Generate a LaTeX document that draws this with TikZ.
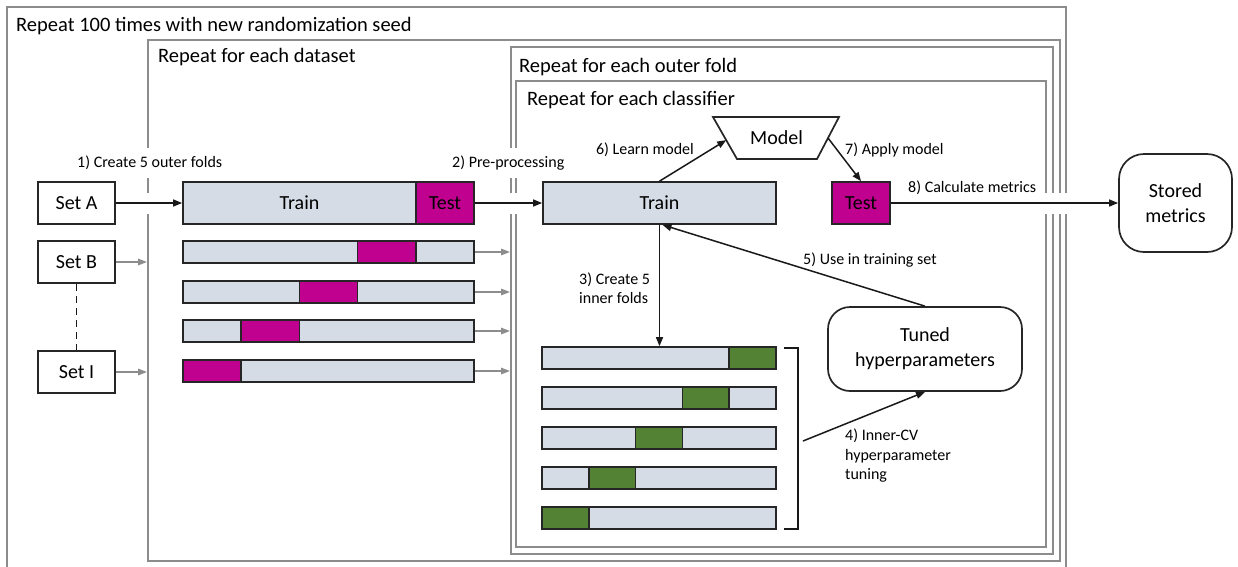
\documentclass[tikz,border=0pt]{standalone}
\usepackage{fontspec}
\setmainfont{Carlito}
\usetikzlibrary{arrows.meta,calc}
\definecolor{barfill}{HTML}{D6DCE5}
\definecolor{testmag}{HTML}{C0008F}
\definecolor{foldgreen}{HTML}{548235}
\definecolor{framegray}{HTML}{8C8C8C}
\begin{document}
\begin{tikzpicture}[x=1pt,y=-1pt,
  frame/.style={draw=framegray,line width=1.6pt},
  ftitle/.style={anchor=base west,font=\fontsize{20.5}{24}\selectfont,inner sep=0pt},
  bigtext/.style={font=\fontsize{20}{25}\selectfont},
  box/.style={draw=black!85,line width=1.7pt,bigtext,inner sep=0pt,align=center},
  bar/.style={box,fill=barfill},
  lbl/.style={font=\fontsize{16}{19.5}\selectfont,inner sep=0pt,align=left},
  gaplbl/.style={lbl,fill=white,inner ysep=8pt},
  arr/.style={-{Triangle[length=9pt,width=7pt]},line width=1.5pt,black!90},
  garr/.style={-{Triangle[length=9pt,width=6.5pt]},line width=1.5pt,framegray},
  halo/.style={preaction={draw=white,line width=21pt,arrows=-,shorten <=3pt,shorten >=3pt}},
]
\useasboundingbox (0,0) rectangle (1238,566);

% frames
\draw[frame] (7,567) -- (7,7) -- (1066,7) -- (1066,567);
\draw[frame] (148,40) rectangle (1060,561);
\draw[frame] (511,47) rectangle (1053,554);
\draw[frame] (516,81) rectangle (1046,547);
\node[ftitle] (t1) at (16,31) {Repeat 100 times with new randomization seed};
\node[ftitle] (t2) at (158,62) {Repeat for each dataset};
\node[ftitle] (t3) at (519,72) {Repeat for each outer fold};
\node[ftitle] (t4) at (527,105) {Repeat for each classifier};
\coordinate (dsl) at (147,0);
\coordinate (ofl) at (510,0);

% datasets
\node[box,minimum width=77pt,minimum height=42pt] (seta) at (76.5,203) {Set A};
\node[box,minimum width=77pt,minimum height=42pt] (setb) at (76.5,262) {Set B};
\node[box,minimum width=77pt,minimum height=42pt] (seti) at (76.5,372) {Set I};
\draw[line width=1.5pt,dash pattern=on 7pt off 5pt,black!90] (setb.south) -- (seti.north);

% outer folds
\node[bar,minimum width=233pt,minimum height=42pt] (trainbig) at (299.5,203) {Train};
\node[bar,fill=testmag,minimum width=58pt,minimum height=42pt] (testbig) at (445,203) {Test};
\foreach \i/\y/\g in {2/252/3,3/292/2,4/331/1,5/371/0}{
  \node[bar,minimum width=291pt,minimum height=22pt] (fold\i) at (328.5,\y) {};
  \node[bar,fill=testmag,minimum width=58.2pt,minimum height=22pt] (foldt\i) at ({212.1+58.2*\g},\y) {};
  \draw[garr] (fold\i.east) -- (fold\i.east -| ofl);
}
\draw[garr] (setb.east) -- (setb.east -| dsl);
\draw[garr] (seti.east) -- (seti.east -| dsl);

% inner part
\node[bar,minimum width=233pt,minimum height=42pt] (trainin) at (659.5,203) {Train};
\node[bar,fill=testmag,minimum width=58pt,minimum height=42pt] (testin) at (861,203) {Test};
\coordinate (mtl) at (713,117);
\coordinate (mtr) at (839,117);
\coordinate (mbr) at (817,159);
\coordinate (mbl) at (737,159);
\draw[line width=1.7pt,black!85] (mtl) -- (mtr) -- (mbr) -- (mbl) -- cycle;
\node[bigtext] (model) at (776.5,138) {Model};
\node[box,rounded corners=25pt,minimum width=113pt,minimum height=98pt] (stored) at (1175.5,203) {Stored\\metrics};
\node[box,rounded corners=22pt,minimum width=194pt,minimum height=84pt] (tuned) at (925,349) {Tuned\\hyperparameters};

\foreach \i/\y/\g in {1/358/4,2/398/3,3/438/2,4/478/1,5/518/0}{
  \node[bar,minimum width=234pt,minimum height=22pt] (ib\i) at (659,\y) {};
  \node[bar,fill=foldgreen,minimum width=46.8pt,minimum height=22pt] (ig\i) at ({565.4+46.8*\g},\y) {};
}
\coordinate (bk1) at (784,348);
\coordinate (bk2) at (784,529);
\draw[line width=1.5pt,black!90] (bk1) -- ++(14,0) |- (bk2);
\coordinate (brk) at (803,441);

% arrows
\draw[arr,halo] (seta.east) -- (trainbig.west);
\draw[arr,halo] (testbig.east) -- (trainin.west);
\draw[arr,halo] (testin.east) -- (stored.west);
\draw[arr] (trainin.north) -- ($(mtl)!0.55!(mbl)$);
\draw[arr] ($(mtr)!0.5!(mbr)$) -- (testin.north);
\draw[arr] (trainin.south) -- (trainin.south |- ib1.north);
\draw[arr] (tuned.north) -- ($(trainin.south)+(3,0)$);
\draw[arr] (brk) -- (tuned.south);

% labels
\node[gaplbl,anchor=west] (l1) at (77,163) {1) Create 5 outer folds};
\node[gaplbl,anchor=west] (l2) at (452,163) {2) Pre-processing};
\node[lbl,anchor=west] (l3) at (579,288) {3) Create 5\\inner folds};
\node[lbl,anchor=west] (l4) at (845,456) {4) Inner-CV\\hyperparameter\\tuning};
\node[lbl,anchor=west] (l5) at (803,260) {5) Use in training set};
\node[lbl,anchor=east] (l6) at (694,150) {6) Learn model};
\node[lbl,anchor=west] (l7) at (845,150) {7) Apply model};
\node[lbl,anchor=west] (l8) at (908,188) {8) Calculate metrics};
\end{tikzpicture}
\end{document}
